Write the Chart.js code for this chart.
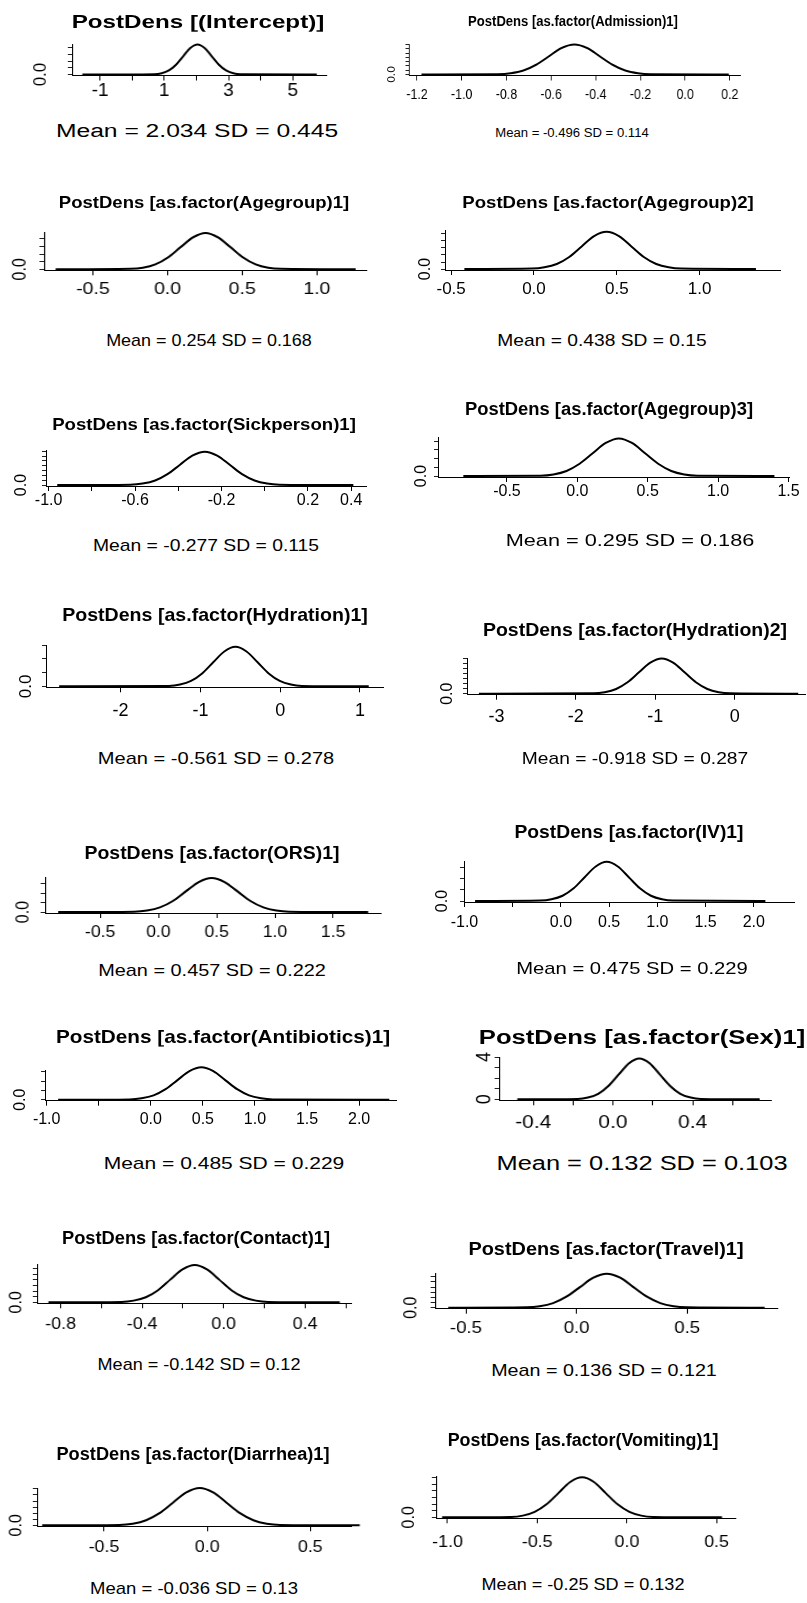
<!DOCTYPE html>
<html>
<head>
<meta charset="utf-8">
<script src="https://cdn.jsdelivr.net/npm/chart.js@4.4.1/dist/chart.umd.min.js"></script>
<style>
  body { margin: 0; background: #fff; }
  #page { position: relative; width: 807px; height: 1603px; overflow: hidden; background: #fff; }
  .txt { position: absolute; white-space: nowrap; line-height: 1; color: #000;
         font-family: 'Liberation Sans', Arial, sans-serif; transform-origin: 50% 50%; }
  .panel { position: absolute; transform-origin: 0 0; }
</style>
</head>
<body>
<div id="page"></div>
<script>
// ===== Posterior density panels (16 coefficients) =====

// --- curves: x positions and density heights ---
const interceptX   = [-1.55, 0.699, 0.921, 1.144, 1.366, 1.589, 1.811, 2.034, 2.257, 2.479, 2.702, 2.924, 3.147, 3.369, 5.75];
const interceptY   = [0, 0.010, 0.039, 0.121, 0.291, 0.544, 0.790, 0.896, 0.790, 0.544, 0.291, 0.121, 0.039, 0.010, 0];
const admissionX   = [-1.18, -0.838, -0.781, -0.724, -0.667, -0.610, -0.553, -0.496, -0.439, -0.382, -0.325, -0.268, -0.211, -0.154, 0.196];
const admissionY   = [0, 0.04, 0.15, 0.47, 1.14, 2.12, 3.09, 3.50, 3.09, 2.12, 1.14, 0.47, 0.15, 0.04, 0];
const agegroup1X   = [-0.75, -0.250, -0.166, -0.082, 0.002, 0.086, 0.170, 0.254, 0.338, 0.422, 0.506, 0.590, 0.674, 0.758, 1.26];
const agegroup1Y   = [0, 0.03, 0.10, 0.32, 0.77, 1.44, 2.09, 2.38, 2.09, 1.44, 0.77, 0.32, 0.10, 0.03, 0];
const agegroup2X   = [-0.42, -0.012, 0.063, 0.138, 0.213, 0.288, 0.363, 0.438, 0.513, 0.588, 0.663, 0.738, 0.813, 0.888, 1.34];
const agegroup2Y   = [0, 0.03, 0.12, 0.36, 0.86, 1.61, 2.35, 2.66, 2.35, 1.61, 0.86, 0.36, 0.12, 0.03, 0];
const sickpersonX  = [-0.96, -0.622, -0.565, -0.507, -0.450, -0.392, -0.335, -0.277, -0.220, -0.162, -0.105, -0.047, 0.011, 0.068, 0.41];
const sickpersonY  = [0, 0.04, 0.15, 0.47, 1.13, 2.11, 3.06, 3.47, 3.06, 2.11, 1.13, 0.47, 0.15, 0.04, 0];
const agegroup3X   = [-0.81, -0.263, -0.170, -0.077, 0.016, 0.109, 0.202, 0.295, 0.388, 0.481, 0.574, 0.667, 0.760, 0.853, 1.40];
const agegroup3Y   = [0, 0.02, 0.09, 0.29, 0.70, 1.30, 1.89, 2.15, 1.89, 1.30, 0.70, 0.29, 0.09, 0.02, 0];
const hydration1X  = [-2.77, -1.395, -1.256, -1.117, -0.978, -0.839, -0.700, -0.561, -0.422, -0.283, -0.144, -0.005, 0.134, 0.273, 1.11];
const hydration1Y  = [0, 0.016, 0.063, 0.194, 0.466, 0.871, 1.266, 1.435, 1.266, 0.871, 0.466, 0.194, 0.063, 0.016, 0];
const hydration2X  = [-3.22, -1.779, -1.636, -1.492, -1.349, -1.205, -1.062, -0.918, -0.775, -0.631, -0.488, -0.344, -0.201, -0.057, 0.80];
const hydration2Y  = [0, 0.015, 0.061, 0.188, 0.452, 0.844, 1.226, 1.390, 1.226, 0.844, 0.452, 0.188, 0.061, 0.015, 0];
const orsX         = [-0.86, -0.209, -0.098, 0.013, 0.124, 0.235, 0.346, 0.457, 0.568, 0.679, 0.790, 0.901, 1.012, 1.123, 1.80];
const orsY         = [0, 0.020, 0.079, 0.243, 0.584, 1.091, 1.585, 1.797, 1.585, 1.091, 0.584, 0.243, 0.079, 0.020, 0];
const ivX          = [-0.89, -0.212, -0.098, 0.017, 0.132, 0.246, 0.361, 0.475, 0.590, 0.704, 0.819, 0.933, 1.048, 1.162, 2.12];
const ivY          = [0, 0.019, 0.077, 0.235, 0.566, 1.057, 1.536, 1.742, 1.536, 1.057, 0.566, 0.235, 0.077, 0.019, 0];
const antibioticsX = [-0.89, -0.202, -0.088, 0.027, 0.142, 0.256, 0.371, 0.485, 0.600, 0.714, 0.829, 0.943, 1.058, 1.172, 2.29];
const antibioticsY = [0, 0.019, 0.077, 0.235, 0.566, 1.057, 1.536, 1.742, 1.536, 1.057, 0.566, 0.235, 0.077, 0.019, 0];
const sexX         = [-0.48, -0.177, -0.126, -0.074, -0.023, 0.029, 0.081, 0.132, 0.184, 0.235, 0.287, 0.338, 0.390, 0.441, 0.737];
const sexY         = [0, 0.04, 0.17, 0.52, 1.26, 2.35, 3.42, 3.87, 3.42, 2.35, 1.26, 0.52, 0.17, 0.04, 0];
const contactX     = [-0.86, -0.502, -0.442, -0.382, -0.322, -0.262, -0.202, -0.142, -0.082, -0.022, 0.038, 0.098, 0.158, 0.218, 0.57];
const contactY     = [0, 0.04, 0.15, 0.45, 1.08, 2.02, 2.93, 3.32, 2.93, 2.02, 1.08, 0.45, 0.15, 0.04, 0];
const travelX      = [-0.58, -0.227, -0.167, -0.106, -0.046, 0.015, 0.076, 0.136, 0.197, 0.257, 0.318, 0.378, 0.439, 0.499, 0.85];
const travelY      = [0, 0.04, 0.14, 0.45, 1.07, 2.00, 2.91, 3.30, 2.91, 2.00, 1.07, 0.45, 0.14, 0.04, 0];
const diarrheaX    = [-0.80, -0.426, -0.361, -0.296, -0.231, -0.166, -0.101, -0.036, 0.029, 0.094, 0.159, 0.224, 0.289, 0.354, 0.74];
const diarrheaY    = [0, 0.03, 0.13, 0.42, 1.00, 1.86, 2.71, 3.07, 2.71, 1.86, 1.00, 0.42, 0.13, 0.03, 0];
const vomitingX    = [-1.03, -0.646, -0.580, -0.514, -0.448, -0.382, -0.316, -0.250, -0.184, -0.118, -0.052, 0.014, 0.080, 0.146, 0.53];
const vomitingY    = [0, 0.03, 0.13, 0.41, 0.98, 1.83, 2.67, 3.02, 2.67, 1.83, 0.98, 0.41, 0.13, 0.03, 0];

// --- titles and summary lines ---
const panelTitles = [
  'PostDens [(Intercept)]', 'PostDens [as.factor(Admission)1]',
  'PostDens [as.factor(Agegroup)1]', 'PostDens [as.factor(Agegroup)2]',
  'PostDens [as.factor(Sickperson)1]', 'PostDens [as.factor(Agegroup)3]',
  'PostDens [as.factor(Hydration)1]', 'PostDens [as.factor(Hydration)2]',
  'PostDens [as.factor(ORS)1]', 'PostDens [as.factor(IV)1]',
  'PostDens [as.factor(Antibiotics)1]', 'PostDens [as.factor(Sex)1]',
  'PostDens [as.factor(Contact)1]', 'PostDens [as.factor(Travel)1]',
  'PostDens [as.factor(Diarrhea)1]', 'PostDens [as.factor(Vomiting)1]'
];
const panelMeans = [
  'Mean = 2.034 SD = 0.445', 'Mean = -0.496 SD = 0.114',
  'Mean = 0.254 SD = 0.168', 'Mean = 0.438 SD = 0.15',
  'Mean = -0.277 SD = 0.115', 'Mean = 0.295 SD = 0.186',
  'Mean = -0.561 SD = 0.278', 'Mean = -0.918 SD = 0.287',
  'Mean = 0.457 SD = 0.222', 'Mean = 0.475 SD = 0.229',
  'Mean = 0.485 SD = 0.229', 'Mean = 0.132 SD = 0.103',
  'Mean = -0.142 SD = 0.12', 'Mean = 0.136 SD = 0.121',
  'Mean = -0.036 SD = 0.13', 'Mean = -0.25 SD = 0.132'
];

// --- x tick labels that R printed (other ticks are unlabeled) ---
const interceptTicks   = ['-1', '1', '3', '5'];
const admissionTicks   = ['-1.2', '-1.0', '-0.8', '-0.6', '-0.4', '-0.2', '0.0', '0.2'];
const agegroup1Ticks   = ['-0.5', '0.0', '0.5', '1.0'];
const agegroup2Ticks   = ['-0.5', '0.0', '0.5', '1.0'];
const sickpersonTicks  = ['-1.0', '-0.6', '-0.2', '0.2', '0.4'];
const agegroup3Ticks   = ['-0.5', '0.0', '0.5', '1.0', '1.5'];
const hydration1Ticks  = ['-2', '-1', '0', '1'];
const hydration2Ticks  = ['-3', '-2', '-1', '0'];
const orsTicks         = ['-0.5', '0.0', '0.5', '1.0', '1.5'];
const ivTicks          = ['-1.0', '0.0', '0.5', '1.0', '1.5', '2.0'];
const antibioticsTicks = ['-1.0', '0.0', '0.5', '1.0', '1.5', '2.0'];
const sexTicks         = ['-0.4', '0.0', '0.4'];
const contactTicks     = ['-0.8', '-0.4', '0.0', '0.4'];
const travelTicks      = ['-0.5', '0.0', '0.5'];
const diarrheaTicks    = ['-0.5', '0.0', '0.5'];
const vomitingTicks    = ['-1.0', '-0.5', '0.0', '0.5'];
const densityTicks     = ['0.0'];
const sexDensityTicks  = ['0', '4'];

// --- layout: plot box on the page (y-axis x, x-axis end, top, x-axis y), scales, fonts ---
const FONT = "'Liberation Sans', Arial, sans-serif";
const panels = [
  { xs: interceptX, ys: interceptY, xl: interceptTicks, L: 72, R: 327, T: 43.5, B: 75, xMin: -1.872, xMax: 6.068, xTickMax: 5, xStep: 1, dec: 0, labelY: 91, font: 18, sx: 1.05, yMax: 0.91, yStep: 0.2, yLabelX: 41, yFont: 17,
    title: { cx: 198, cy: 21, size: 19, w: 252 }, mean: { cx: 197, cy: 131, size: 18, w: 282 } },
  { xs: admissionX, ys: admissionY, xl: admissionTicks, L: 409, R: 740.7, T: 43.5, B: 75, xMin: -1.237, xMax: 0.248, xStep: 0.2, dec: 1, labelY: 94.5, font: 15, sx: 0.83, yMax: 3.55, yStep: 0.5, yLabelX: 392.5, yFont: 12,
    title: { cx: 573, cy: 21, size: 14, w: 210 }, mean: { cx: 572, cy: 132.5, size: 12, w: 154 } },
  { xs: agegroup1X, ys: agegroup1Y, xl: agegroup1Ticks, L: 43.7, R: 366.4, T: 231.7, B: 270, xMin: -0.828, xMax: 1.334, xStep: 0.5, dec: 1, labelY: 289, font: 17, sx: 1.15, yMax: 2.44, yStep: 0.5, yLabelX: 20.5, yFont: 16,
    title: { cx: 204, cy: 202, size: 17, w: 290 }, mean: { cx: 209, cy: 340, size: 17, w: 206 } },
  { xs: agegroup2X, ys: agegroup2Y, xl: agegroup2Ticks, L: 445.2, R: 781, T: 230, B: 270, xMin: -0.537, xMax: 1.49, xStep: 0.5, dec: 1, labelY: 289, font: 17, sx: 1.0, yMax: 2.78, yStep: 0.5, yLabelX: 426, yFont: 16,
    title: { cx: 608, cy: 202, size: 17, w: 291 }, mean: { cx: 602, cy: 340, size: 17, w: 209 } },
  { xs: sickpersonX, ys: sickpersonY, xl: sickpersonTicks, L: 46.3, R: 366.4, T: 450, B: 486, xMin: -1.012, xMax: 0.469, xStep: 0.2, dec: 1, labelY: 501, font: 16, sx: 1.0, yMax: 3.64, yStep: 0.5, yLabelX: 21.6, yFont: 16,
    title: { cx: 204, cy: 423.5, size: 17, w: 304 }, mean: { cx: 206, cy: 545, size: 17, w: 226 } },
  { xs: agegroup3X, ys: agegroup3Y, xl: agegroup3Ticks, L: 437.8, R: 789, T: 436.7, B: 476.7, xMin: -0.99, xMax: 1.505, xStep: 0.5, dec: 1, labelY: 491, font: 16, sx: 1.0, yMax: 2.23, yStep: 0.5, yLabelX: 421.5, yFont: 16,
    title: { cx: 609, cy: 409, size: 18, w: 288 }, mean: { cx: 630, cy: 540, size: 17, w: 249 } },
  { xs: hydration1X, ys: hydration1Y, xl: hydration1Ticks, L: 46.3, R: 383.4, T: 645, B: 687.3, xMin: -2.935, xMax: 1.29, xStep: 1, dec: 0, labelY: 711, font: 18, sx: 1.0, yMax: 1.5, yStep: 0.5, yLabelX: 26.8, yFont: 17,
    title: { cx: 215, cy: 614, size: 19, w: 306 }, mean: { cx: 216, cy: 758, size: 17, w: 236 } },
  { xs: hydration2X, ys: hydration2Y, xl: hydration2Ticks, L: 467.3, R: 805.5, T: 658.3, B: 695, xMin: -3.37, xMax: 0.888, xStep: 1, dec: 0, labelY: 717.5, font: 18, sx: 1.0, yMax: 1.41, yStep: 0.2, yLabelX: 447.8, yFont: 16,
    title: { cx: 635, cy: 629.5, size: 18, w: 304 }, mean: { cx: 635, cy: 758, size: 17, w: 226 } },
  { xs: orsX, ys: orsY, xl: orsTicks, L: 45.3, R: 380.9, T: 877.3, B: 913.3, xMin: -0.973, xMax: 1.907, xStep: 0.5, dec: 1, labelY: 932.5, font: 16, sx: 1.1, yMax: 1.85, yStep: 0.5, yLabelX: 24.5, yFont: 16,
    title: { cx: 212, cy: 853, size: 18, w: 255 }, mean: { cx: 212, cy: 970, size: 17, w: 228 } },
  { xs: ivX, ys: ivY, xl: ivTicks, L: 464.2, R: 795, T: 860.7, B: 901.7, xMin: -1.005, xMax: 2.425, xStep: 0.5, dec: 1, labelY: 922, font: 16, sx: 1.0, yMax: 1.78, yStep: 0.5, yLabelX: 442.6, yFont: 16,
    title: { cx: 629, cy: 831, size: 19, w: 229 }, mean: { cx: 632, cy: 968, size: 17, w: 232 } },
  { xs: antibioticsX, ys: antibioticsY, xl: antibioticsTicks, L: 45, R: 396.7, T: 1070, B: 1100.7, xMin: -1.016, xMax: 2.361, xStep: 0.5, dec: 1, labelY: 1120, font: 16, sx: 1.0, yMax: 1.6, yStep: 0.5, yLabelX: 20.5, yFont: 16,
    title: { cx: 223, cy: 1035.5, size: 19, w: 334 }, mean: { cx: 224, cy: 1163, size: 17, w: 241 } },
  { xs: sexX, ys: sexY, xl: sexTicks, L: 499, R: 770.7, T: 1056.7, B: 1100, xMin: -0.572, xMax: 0.792, xStep: 0.2, dec: 1, labelY: 1122, font: 19, sx: 1.1, yMax: 4.0, yStep: 1, yDec: 0, yl: sexDensityTicks, yLabelX: 485, yFont: 18,
    title: { cx: 641.5, cy: 1036.5, size: 20, w: 327 }, mean: { cx: 642, cy: 1163, size: 20, w: 291 } },
  { xs: contactX, ys: contactY, xl: contactTicks, L: 37.1, R: 351.5, T: 1264, B: 1303.3, xMin: -0.916, xMax: 0.627, xStep: 0.2, dec: 1, labelY: 1324, font: 17, sx: 1.05, yMax: 3.41, yStep: 0.5, yLabelX: 16.5, yFont: 16,
    title: { cx: 196, cy: 1238, size: 18, w: 268 }, mean: { cx: 199, cy: 1364, size: 17, w: 203 } },
  { xs: travelX, ys: travelY, xl: travelTicks, L: 434.9, R: 777.1, T: 1273.3, B: 1309, xMin: -0.64, xMax: 0.907, xStep: 0.5, dec: 1, labelY: 1329, font: 17, sx: 1.1, yMax: 3.37, yStep: 0.5, yLabelX: 411.7, yFont: 16,
    title: { cx: 606, cy: 1249, size: 18, w: 275 }, mean: { cx: 604, cy: 1370, size: 17, w: 226 } },
  { xs: diarrheaX, ys: diarrheaY, xl: diarrheaTicks, L: 37, R: 351.5, T: 1487.7, B: 1526, xMin: -0.825, xMax: 0.70, xStep: 0.5, dec: 1, labelY: 1547, font: 17, sx: 1.05, yMax: 3.07, yStep: 0.5, yLabelX: 17, yFont: 16,
    title: { cx: 193, cy: 1454, size: 18, w: 273 }, mean: { cx: 194, cy: 1588, size: 17, w: 208 } },
  { xs: vomitingX, ys: vomitingY, xl: vomitingTicks, L: 436.4, R: 736, T: 1476, B: 1518.3, xMin: -1.064, xMax: 0.606, xStep: 0.5, dec: 1, labelY: 1542, font: 17, sx: 1.05, yMax: 3.12, yStep: 0.5, yLabelX: 410, yFont: 16,
    title: { cx: 582.5, cy: 1440, size: 18, w: 271 }, mean: { cx: 583, cy: 1584, size: 17, w: 203 } }
];

const page = document.getElementById('page');
const measureCtx = document.createElement('canvas').getContext('2d');

function fmt(v, d) {
  if (Math.abs(v) < 1e-9) v = 0;
  return v.toFixed(d);
}

// Put a line of text centred at (cx, cy), stretched to the width seen in the picture
function placeText(text, s, bold) {
  const d = document.createElement('div');
  d.className = 'txt';
  d.textContent = text;
  d.style.fontSize = s.size + 'px';
  if (bold) d.style.fontWeight = 'bold';
  page.appendChild(d);
  const natural = d.offsetWidth || 1;
  d.style.left = s.cx + 'px';
  d.style.top = s.cy + 'px';
  d.style.transform = `translate(-50%, -50%) scaleX(${(s.w / natural).toFixed(4)})`;
}

function drawPanel(p, idx) {
  const padL = 60, padT = 34, tlX = 5, tlY = 4;
  const plotW = (p.R - p.L) / p.sx;
  const plotH = p.B - p.T;
  const W = Math.ceil(padL + plotW + 40);
  const padR = W - padL - plotW;
  const H = Math.ceil(padT + plotH + 44);
  const axisH = H - padT - plotH;

  const wrap = document.createElement('div');
  wrap.className = 'panel';
  wrap.style.left = (p.L - padL * p.sx) + 'px';
  wrap.style.top = (p.T - padT) + 'px';
  wrap.style.transform = `scaleX(${p.sx})`;
  const canvas = document.createElement('canvas');
  canvas.width = W;
  canvas.height = H;
  canvas.style.width = W + 'px';
  canvas.style.height = H + 'px';
  wrap.appendChild(canvas);
  page.appendChild(wrap);

  const yLabels = p.yl || densityTicks;
  const yDec = p.yDec === undefined ? 1 : p.yDec;
  measureCtx.font = `${p.yFont}px ${FONT}`;
  const widest = Math.max(...yLabels.map(t => measureCtx.measureText(t).width));
  const padY = (p.L - p.yLabelX) / p.sx - tlY - widest / 2;
  const padX = p.labelY - p.B - tlX - 0.6 * p.font;
  const yMin = -p.yMax / plotH;   // zero sits one pixel above the axis, as in R
  const tickMax = p.xTickMax === undefined ? Infinity : p.xTickMax;

  new Chart(canvas.getContext('2d'), {
    type: 'line',
    data: {
      datasets: [{
        data: p.xs.map((x, i) => ({ x: x, y: p.ys[i] })),
        borderColor: '#000',
        borderWidth: 2,
        pointRadius: 0,
        fill: false,
        cubicInterpolationMode: 'monotone',
        clip: false
      }]
    },
    options: {
      responsive: false,
      animation: false,
      devicePixelRatio: 1,
      events: [],
      layout: { padding: { left: 0, right: padR, top: padT, bottom: 0 }, autoPadding: false },
      plugins: { legend: { display: false }, tooltip: { enabled: false }, title: { display: false } },
      scales: {
        x: {
          type: 'linear',
          position: 'bottom',
          min: p.xMin,
          max: p.xMax,
          afterFit: s => { s.height = axisH; },
          border: { display: true, color: '#000', width: 1 },
          grid: {
            drawOnChartArea: false, drawTicks: true, tickLength: tlX, lineWidth: 1, color: '#000',
            tickColor: c => (c.tick && c.tick.value > tickMax + 1e-9) ? 'rgba(0,0,0,0)' : '#000'
          },
          ticks: {
            stepSize: p.xStep,
            includeBounds: false,
            autoSkip: false,
            minRotation: 0,
            maxRotation: 0,
            padding: padX,
            color: '#000',
            font: { family: FONT, size: p.font },
            callback: v => { const s = fmt(v, p.dec); return p.xl.includes(s) ? s : ''; }
          }
        },
        y: {
          type: 'linear',
          position: 'left',
          min: yMin,
          max: p.yMax,
          afterFit: s => { s.width = padL; },
          border: { display: true, color: '#000', width: 1 },
          grid: { drawOnChartArea: false, drawTicks: true, tickLength: tlY, color: '#222', lineWidth: 1 },
          ticks: {
            stepSize: p.yStep,
            includeBounds: false,
            autoSkip: false,
            minRotation: 90,
            maxRotation: 90,
            crossAlign: 'center',
            padding: padY,
            color: '#000',
            font: { family: FONT, size: p.yFont },
            callback: v => { const s = fmt(v, yDec); return yLabels.includes(s) ? s : ''; }
          }
        }
      }
    }
  });

  placeText(panelTitles[idx], p.title, true);
  placeText(panelMeans[idx], p.mean, false);
}

panels.forEach(drawPanel);
</script>
</body>
</html>
